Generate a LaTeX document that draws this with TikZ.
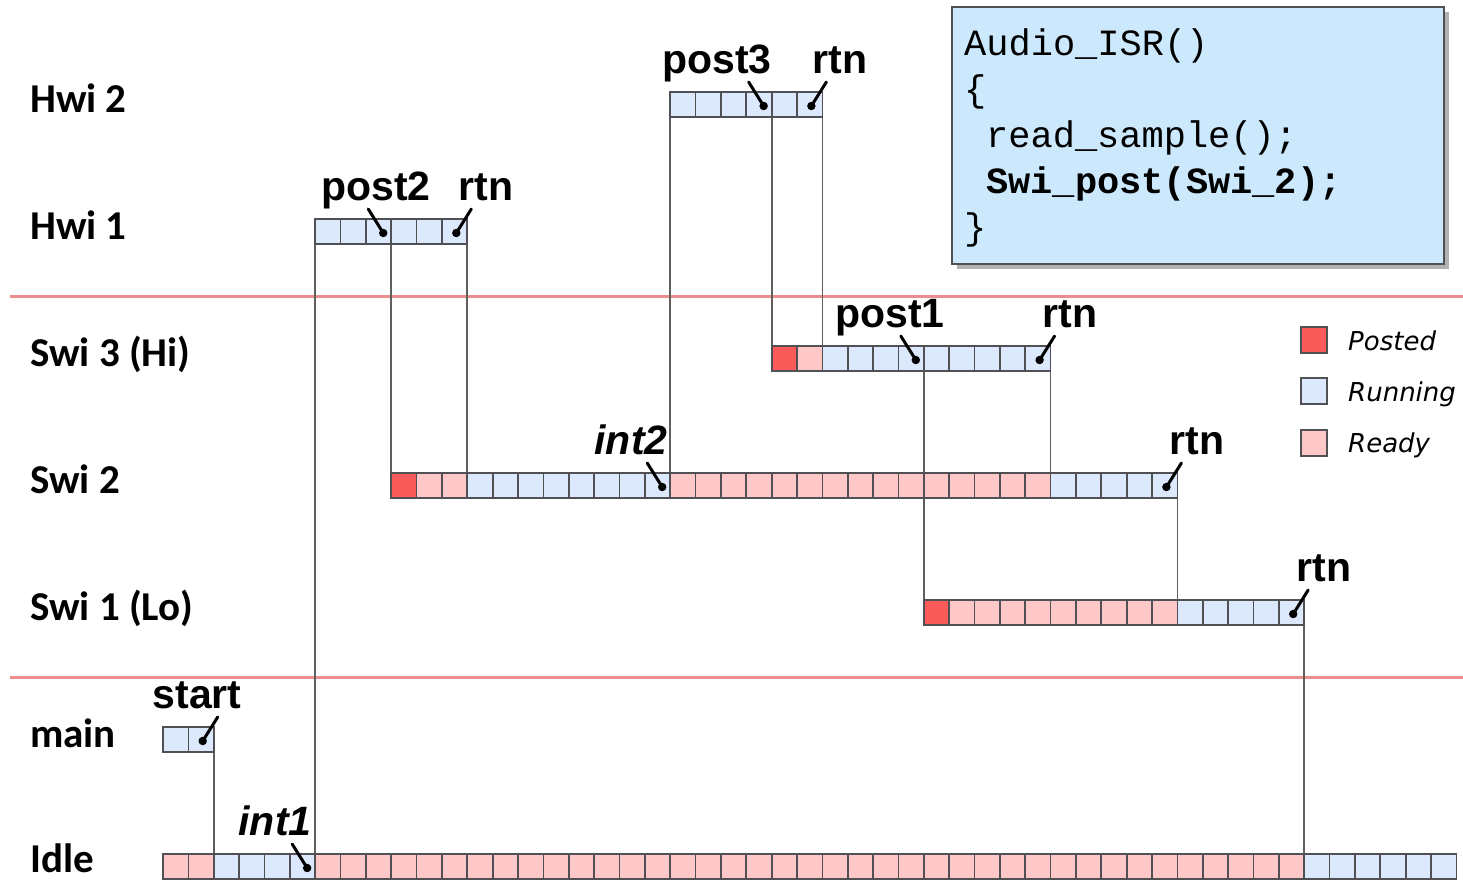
\documentclass[tikz,border=0pt]{standalone}
\usepackage{fontspec}
\newfontfamily\lblfont{Carlito}
\newfontfamily\tagfont{Liberation Sans}
\newfontfamily\codefont{Liberation Mono}
\newfontfamily\legfont{DejaVu Sans}
\usetikzlibrary{shadows}

\definecolor{runc}{RGB}{220,232,252}
\definecolor{rdyc}{RGB}{255,200,200}
\definecolor{pstc}{RGB}{250,90,90}
\definecolor{cellline}{RGB}{80,80,85}
\definecolor{connc}{RGB}{95,95,95}
\definecolor{sepc}{RGB}{236,140,140}
\definecolor{codebg}{RGB}{204,232,252}

\tikzset{
  cell/.style={draw=cellline, line width=1.7pt},
  run/.style={cell, fill=runc},
  rdy/.style={cell, fill=rdyc},
  pst/.style={cell, fill=pstc},
  conn/.style={draw=connc, line width=1.7pt},
  sep/.style={draw=sepc, line width=3pt},
  rowlbl/.style={anchor=base west, inner sep=0pt, font=\lblfont\bfseries\fontsize{41}{41}\selectfont},
  tag/.style={anchor=base, inner sep=0pt, font=\tagfont\bfseries\fontsize{41}{41}\selectfont},
  itag/.style={tag, font=\tagfont\bfseries\itshape\fontsize{41}{41}\selectfont},
  mk/.style={line width=3pt, line cap=round, fill=black},
  codeln/.style={anchor=base west, inner sep=0pt, font=\codefont\fontsize{37}{37}\selectfont},
  legtxt/.style={anchor=base west, inner sep=0pt, font=\legfont\itshape\fontsize{26}{26}\selectfont},
  codebox/.style={draw=cellline, line width=1.8pt, fill=codebg, anchor=north west,
    drop shadow={shadow xshift=5pt, shadow yshift=-5pt, fill=black, opacity=0.3}},
}

% column boundary k of the time grid
\newcommand\colx[1]{163+25.36*#1}
% a run of cells from column #1 to #2 on the row whose top is #3
\newcommand\cells[4]{\foreach \k in {#1,...,#2}{\draw[#4] ({\colx{\k}},#3) rectangle ++(25.36,25);}}
% event marks: "\" before a boundary, "/" at a return
\newcommand\mkpost[2]{\filldraw[mk] ({\colx{#1}-23},{#2-10}) -- ({\colx{#1}-8},{#2+14}) circle[radius=2.6pt];}
\newcommand\mkrtn[2]{\filldraw[mk] ({\colx{#1}+4},{#2-10}) -- ({\colx{#1}-11},{#2+14}) circle[radius=2.6pt];}

\begin{document}
\begin{tikzpicture}[x=1pt,y=-1pt]
\useasboundingbox (0,0) rectangle (1463,879);

% priority group separators
\coordinate (sepAl) at (10,296); \coordinate (sepAr) at (1463,296);
\coordinate (sepBl) at (10,677); \coordinate (sepBr) at (1463,677);
\draw[sep] (sepAl) -- (sepAr);
\draw[sep] (sepBl) -- (sepBr);

% row labels
\node[rowlbl] (lHwi2) at (30,112) {Hwi 2};
\node[rowlbl] (lHwi1) at (30,239) {Hwi 1};
\node[rowlbl] (lSwi3) at (30,366) {Swi 3 (Hi)};
\node[rowlbl] (lSwi2) at (30,493) {Swi 2};
\node[rowlbl] (lSwi1) at (30,620) {Swi 1 (Lo)};
\node[rowlbl] (lmain) at (30,747) {main};
\node[rowlbl] (lIdle) at (30,872) {Idle};

% context switch points
\coordinate (mainEnd) at ({\colx{2}},752);   \coordinate (idleRun) at ({\colx{2}},854);
\coordinate (idleInt) at ({\colx{6}},854);   \coordinate (hwiAbot) at ({\colx{6}},245);
\coordinate (hwiApost) at ({\colx{9}},245);  \coordinate (swiBpost) at ({\colx{9}},473);
\coordinate (hwiArtn) at ({\colx{12}},245);  \coordinate (swiBrun) at ({\colx{12}},473);
\coordinate (swiBint) at ({\colx{20}},473);  \coordinate (hwiBbot) at ({\colx{20}},117);
\coordinate (hwiBpost) at ({\colx{24}},117); \coordinate (swiCpost) at ({\colx{24}},346);
\coordinate (hwiBrtn) at ({\colx{26}},117);  \coordinate (swiCrun) at ({\colx{26}},346);
\coordinate (swiCpost1) at ({\colx{30}},371);\coordinate (swiApost) at ({\colx{30}},600);
\coordinate (swiCrtn) at ({\colx{35}},371);  \coordinate (swiBres) at ({\colx{35}},473);
\coordinate (swiBrtn) at ({\colx{40}},498);  \coordinate (swiArun) at ({\colx{40}},600);
\coordinate (swiArtn) at ({\colx{45}},625);  \coordinate (idleRes) at ({\colx{45}},854);

\draw[conn] (mainEnd) -- (idleRun);
\draw[conn] (idleInt) -- (hwiAbot);
\draw[conn] (hwiApost) -- (swiBpost);
\draw[conn] (hwiArtn) -- (swiBrun);
\draw[conn] (swiBint) -- (hwiBbot);
\draw[conn] (hwiBpost) -- (swiCpost);
\draw[conn] (hwiBrtn) -- (swiCrun);
\draw[conn] (swiCpost1) -- (swiApost);
\draw[conn] (swiCrtn) -- (swiBres);
\draw[conn] (swiBrtn) -- (swiArun);
\draw[conn] (swiArtn) -- (idleRes);

% Hwi 2
\cells{20}{25}{92}{run}
% Hwi 1
\cells{6}{11}{219}{run}
% Swi 3
\cells{24}{24}{346}{pst}
\cells{25}{25}{346}{rdy}
\cells{26}{34}{346}{run}
% Swi 2
\cells{9}{9}{473}{pst}
\cells{10}{11}{473}{rdy}
\cells{12}{19}{473}{run}
\cells{20}{34}{473}{rdy}
\cells{35}{39}{473}{run}
% Swi 1
\cells{30}{30}{600}{pst}
\cells{31}{39}{600}{rdy}
\cells{40}{44}{600}{run}
% main
\cells{0}{1}{727}{run}
% Idle
\cells{0}{1}{854}{rdy}
\cells{2}{5}{854}{run}
\cells{6}{44}{854}{rdy}
\cells{45}{50}{854}{run}

% event marks
\mkrtn{2}{727}
\mkpost{6}{854}
\mkpost{9}{219}
\mkrtn{12}{219}
\mkpost{24}{92}
\mkrtn{26}{92}
\mkpost{30}{346}
\mkrtn{35}{346}
\mkpost{20}{473}
\mkrtn{40}{473}
\mkrtn{45}{600}

% event labels
\node[tag]  (tStart) at (197,708) {start};
\node[itag] (tInt1)  at (275,835) {int1};
\node[tag]  (tPost2) at (376,200) {post2};
\node[tag]  (tRtn1)  at (486,200) {rtn};
\node[tag]  (tPost3) at (717,73)  {post3};
\node[tag]  (tRtn2)  at (840,73)  {rtn};
\node[tag]  (tPost1) at (890,327) {post1};
\node[tag]  (tRtn3)  at (1070,327) {rtn};
\node[itag] (tInt2)  at (631,454) {int2};
\node[tag]  (tRtn4)  at (1197,454) {rtn};
\node[tag]  (tRtn5)  at (1324,581) {rtn};

% interrupt service routine listing
\node[codebox, minimum width=492pt, minimum height=257pt] (isr) at (951,6) {};
\node[codeln] (c1) at (964,55)  {Audio\_ISR()};
\node[codeln] (c2) at (964,101) {\{};
\node[codeln] (c3) at (986,147) {read\_sample();};
\node[codeln, font=\codefont\bfseries\fontsize{37}{37}\selectfont] (c4) at (986,193) {Swi\_post(Swi\_2);};
\node[codeln] (c5) at (964,239) {\}};

% legend
\draw[pst] (1301,327) rectangle ++(26,26);
\draw[run] (1301,378) rectangle ++(26,26);
\draw[rdy] (1301,430) rectangle ++(26,26);
\node[legtxt] (gPosted)  at (1348,350) {Posted};
\node[legtxt] (gRunning) at (1348,401) {Running};
\node[legtxt] (gReady)   at (1348,452) {Ready};
\end{tikzpicture}
\end{document}
